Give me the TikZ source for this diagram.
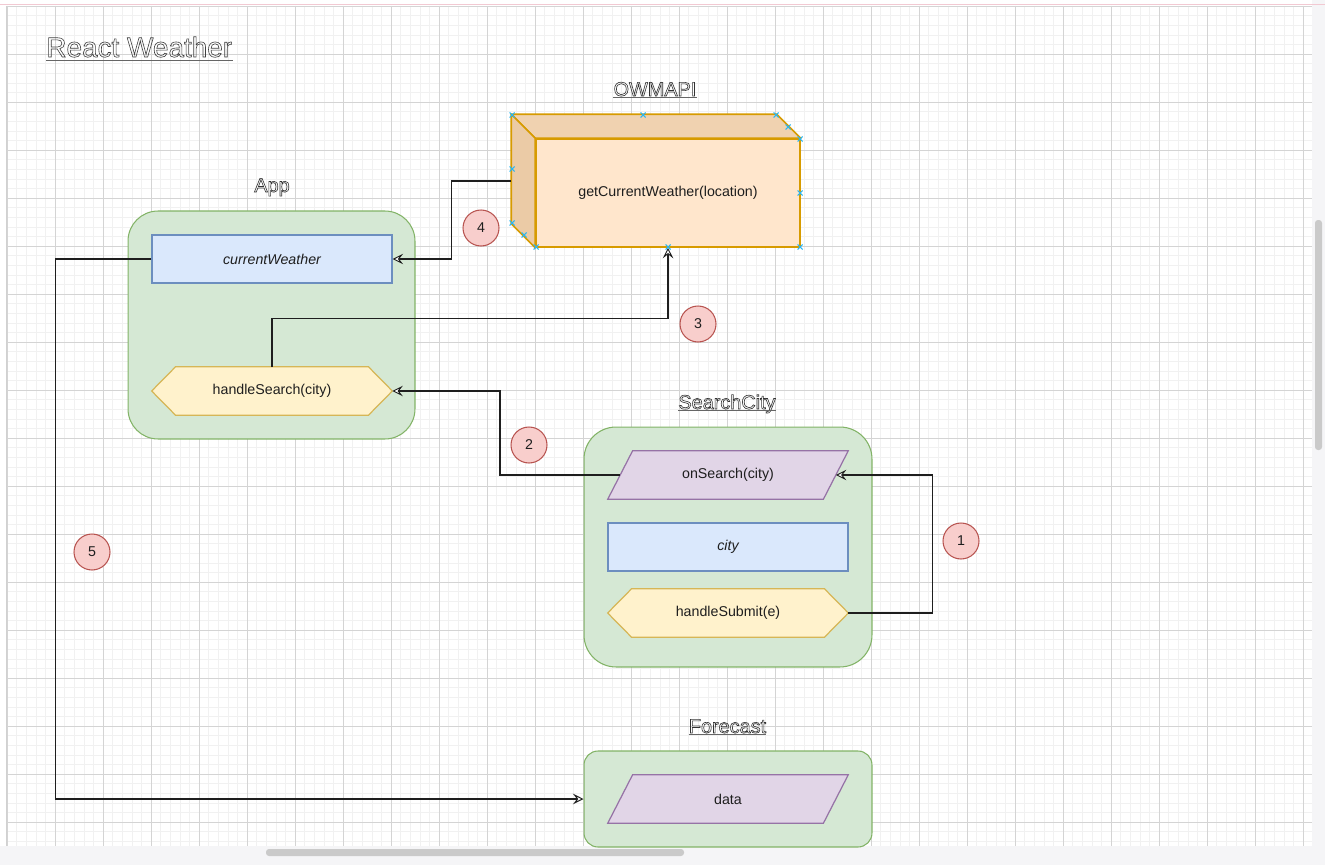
\documentclass[tikz,border=0pt]{standalone}
\usepackage{fontspec}
\setmainfont{Liberation Sans}
\usetikzlibrary{arrows.meta}

\definecolor{gridmaj}{HTML}{D4D4D4}
\definecolor{gridmin}{HTML}{F1F1F1}
\definecolor{grnF}{HTML}{D5E8D4}\definecolor{grnS}{HTML}{82B366}
\definecolor{bluF}{HTML}{DAE8FC}\definecolor{bluS}{HTML}{6C8EBF}
\definecolor{yelF}{HTML}{FFF2CC}\definecolor{yelS}{HTML}{D6B656}
\definecolor{purF}{HTML}{E1D5E7}\definecolor{purS}{HTML}{9673A6}
\definecolor{orgF}{HTML}{FFE6CC}\definecolor{orgS}{HTML}{D79B00}
\definecolor{redF}{HTML}{F8CECC}\definecolor{redS}{HTML}{B85450}
\definecolor{orgTop}{HTML}{F0D2B0}\definecolor{orgSide}{HTML}{EBCBA6}
\definecolor{selblue}{HTML}{29B6F2}
\definecolor{ink}{HTML}{1E1E1E}
\definecolor{pagepink}{HTML}{F2C9D2}
\definecolor{margin}{HTML}{F5F5F7}
\definecolor{thumb}{HTML}{CACACA}

% outlined (stroked-only) heading text
\newcommand\hollow[1]{\special{pdf:literal direct 1 Tr 0.35 w}#1\special{pdf:literal direct 0 Tr}}

\pgfdeclarelayer{gridlayer}
\pgfdeclarelayer{contlayer}
\pgfdeclarelayer{shapelayer}
\pgfsetlayers{gridlayer,contlayer,shapelayer,main}

\begin{document}
\begin{tikzpicture}[x=0.02cm,y=-0.02cm,
  nodefont/.style={font=\fontsize{8.1}{9.7}\selectfont, text=ink},
  container/.style={rectangle, draw=grnS, fill=grnF, line width=0.6pt, inner sep=0},
  state/.style={rectangle, draw=bluS, fill=bluF, line width=0.7pt, minimum width=4.8cm, minimum height=0.96cm, inner sep=0, nodefont},
  slot/.style={rectangle, minimum width=4.8cm, minimum height=0.96cm, inner sep=0, nodefont},
  hexpath/.style={draw=yelS, fill=yelF, line width=0.7pt, line join=miter},
  parapath/.style={draw=purS, fill=purF, line width=0.7pt},
  badge/.style={circle, draw=redS, fill=redF, line width=0.6pt, minimum size=0.72cm, inner sep=0, nodefont},
  conn/.style={draw=ink, line width=0.8pt, -{Stealth[length=0.21cm,width=0.21cm,inset=0.08cm,fill=white,line width=0.55pt]}},
  ctitle/.style={inner sep=0, font=\fontsize{11.3}{13}\selectfont, text=black!80},
  uline/.style={draw=black!60, line width=0.5pt},
  handle/.style={draw=selblue, line width=0.6pt},
  cubeface/.style={draw=orgS, line width=0.9pt, line join=round}]

\useasboundingbox (0,0) rectangle (1325,865);

% canvas, grid and scrollbars
\begin{pgfonlayer}{gridlayer}
  \fill[white] (0,0) rectangle (1325,865);
  \fill[margin] (0,846) rectangle (1325,865);
  \fill[margin] (1312,0) rectangle (1325,865);
  \foreach \i in {0,...,135} \draw[gridmin, line width=0.25pt] ({7+9.6*\i},6) -- ({7+9.6*\i},846);
  \foreach \j in {0,...,87} \draw[gridmin, line width=0.25pt] (7,{6+9.6*\j}) -- (1312,{6+9.6*\j});
  \foreach \i in {0,...,27} \draw[gridmaj, line width=0.5pt] ({7+48*\i},6) -- ({7+48*\i},846);
  \foreach \j in {0,...,17} \draw[gridmaj, line width=0.5pt] (7,{6+48*\j}) -- (1312,{6+48*\j});
  \draw[pagepink, line width=0.8pt] (0,4.5) -- (1325,4.5);
  \draw[black!18, line width=0.6pt] (6.5,6) -- (6.5,846);
  \fill[thumb, rounded corners=0.06cm] (1315,220) rectangle (1322,450);
  \fill[thumb, rounded corners=0.06cm] (266,849) rectangle (684,856);
\end{pgfonlayer}

% title
\node[anchor=base west, inner sep=0, font=\fontsize{15.9}{18}\selectfont, text=black!75] (title) at (46,57) {\hollow{React Weather}};
\draw[uline] ([yshift=-1.8pt]title.base west) -- ([yshift=-1.8pt]title.base east);

% component headings
\node[ctitle, anchor=base] (lblApi) at (655,96) {\hollow{OWMAPI}};
\draw[uline] ([yshift=-1pt]lblApi.base west) -- ([yshift=-1pt]lblApi.base east);
\node[ctitle, anchor=base] (lblApp) at (272,192) {\hollow{App}};
\node[ctitle, anchor=base] (lblSc) at (727,409) {\hollow{SearchCity}};
\draw[uline] ([yshift=-1pt]lblSc.base west) -- ([yshift=-1pt]lblSc.base east);
\node[ctitle, anchor=base] (lblFc) at (727.5,733) {\hollow{Forecast}};
\draw[uline] ([yshift=-1pt]lblFc.base west) -- ([yshift=-1pt]lblFc.base east);

% component containers
\begin{pgfonlayer}{contlayer}
  \node[container, rounded corners=0.6cm, minimum width=5.74cm, minimum height=4.56cm] (app) at (271.5,325) {};
  \node[container, rounded corners=0.64cm, minimum width=5.76cm, minimum height=4.8cm] (sc) at (728,547) {};
  \node[container, rounded corners=0.28cm, minimum width=5.76cm, minimum height=1.92cm] (fc) at (728,799) {};
\end{pgfonlayer}

% App
\node[state] (cw) at (272,259) {\itshape currentWeather};
\node[slot] (hs) at (272,391) {handleSearch(city)};

% SearchCity
\node[slot] (os) at (728,475) {onSearch(city)};
\node[state] (city) at (728,547) {\itshape city};
\node[slot] (hsub) at (728,613) {handleSubmit(e)};

% Forecast
\node[slot] (data) at (728,799) {data};

% handler hexagons and prop parallelograms
\begin{pgfonlayer}{shapelayer}
  \foreach \h in {hs,hsub}
    \filldraw[hexpath] (\h.west) -- ([xshift=0.48cm]\h.north west) -- ([xshift=-0.48cm]\h.north east)
      -- (\h.east) -- ([xshift=-0.48cm]\h.south east) -- ([xshift=0.48cm]\h.south west) -- cycle;
  \foreach \p in {os,data}
    \filldraw[parapath] (\p.south west) -- ([xshift=0.5cm]\p.north west) -- (\p.north east)
      -- ([xshift=-0.5cm]\p.south east) -- cycle;
\end{pgfonlayer}
\coordinate (osL) at ([xshift=0.25cm]os.west);
\coordinate (osR) at ([xshift=-0.25cm]os.east);

% OWMAPI cube
\node[draw=orgS, fill=orgF, line width=0.9pt, minimum width=5.28cm, minimum height=2.16cm, inner sep=0, nodefont] (api) at (668,193) {getCurrentWeather(location)};
\filldraw[cubeface, fill=orgTop] ([shift={(-0.48cm,0.48cm)}]api.north west) -- ([shift={(-0.48cm,0.48cm)}]api.north east)
  -- (api.north east) -- (api.north west) -- cycle;
\filldraw[cubeface, fill=orgSide] ([shift={(-0.48cm,0.48cm)}]api.north west) -- (api.north west)
  -- (api.south west) -- ([shift={(-0.48cm,0.48cm)}]api.south west) -- cycle;
\coordinate (apiL) at ([shift={(-0.48cm,0.24cm)}]api.west);

% step badges
\node[badge] (b1) at (961,541) {1};
\node[badge] (b2) at (529,445) {2};
\node[badge] (b3) at (698,324) {3};
\node[badge] (b4) at (481,228) {4};
\node[badge] (b5) at (92,552) {5};

% data flow
\draw[conn] (hsub.east) -- ++(84,0) |- (osR);
\draw[conn] (osL) -- ++(-120,0) |- (hs.east);
\draw[conn] (hs.north) -- ++(0,-48) -| (api.south);
\draw[conn] (apiL) -- ++(-60,0) |- (cw.east);
\draw[conn] (cw.west) -- ++(-96,0) |- (fc.west);

% selection handles on the cube
\foreach \x/\y in {512/115,643/115,776/115,788/127,800/139,800/193,800/247,668/247,536/247,524/235,512/223,512/169}
  \draw[handle] (\x-2.5,\y-2.5) -- (\x+2.5,\y+2.5) (\x-2.5,\y+2.5) -- (\x+2.5,\y-2.5);

\end{tikzpicture}
\end{document}
